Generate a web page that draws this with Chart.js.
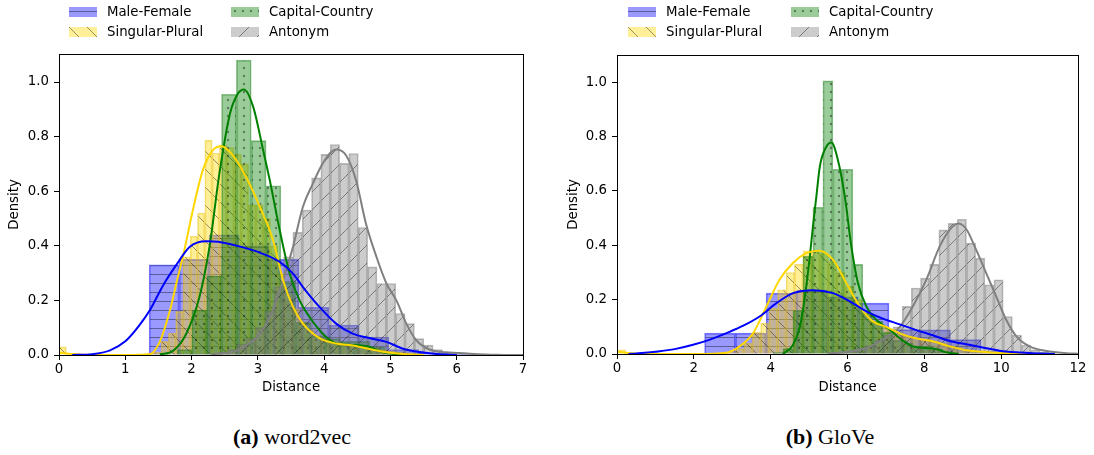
<!DOCTYPE html>
<html>
<head>
<meta charset="utf-8">
<script src="https://cdn.jsdelivr.net/npm/chart.js@4.4.0/dist/chart.umd.min.js"></script>
<style>
  body { margin: 0; background: #fff; }
  #page { position: relative; width: 1094px; height: 455px; overflow: hidden; font-family: "DejaVu Sans", sans-serif; }
  canvas.plot { position: absolute; top: 0; }
  .leg { position: absolute; display: flex; align-items: center; font-size: 13.3px; line-height: 16px; color: #000; white-space: nowrap; }
  .leg canvas { margin-right: 10px; }
  .cap { position: absolute; width: 300px; text-align: center; font-family: "Liberation Serif", serif; font-size: 22px; line-height: 24px; color: #000; }
</style>
</head>
<body>
<div id="page">
  <canvas id="w2v" class="plot" width="547" height="400" style="left:0px"></canvas>
  <canvas id="glove" class="plot" width="547" height="400" style="left:547px"></canvas>
  <div class="cap" style="left:142px;top:425px"><b>(a)</b> word2vec</div>
  <div class="cap" style="left:680px;top:425px"><b>(b)</b> GloVe</div>
</div>
<script>
// series names / styles
const seriesNames = ["Male-Female", "Singular-Plural", "Capital-Country", "Antonym"];
const fillColors = ["rgba(0, 0, 255, 0.4)", "rgba(255, 215, 0, 0.4)", "rgba(0, 128, 0, 0.4)", "rgba(128, 128, 128, 0.4)"];
const edgeColors = ["rgba(0, 0, 255, 0.5)", "rgba(230, 190, 0, 0.5)", "rgba(0, 110, 0, 0.45)", "rgba(100, 100, 100, 0.45)"];
const lineColors = ["#0000ff", "#ffd700", "#008000", "#808080"];
const hatches = ["-", "\\", ".", "/"];
const HATCH_COLOR = "rgba(0, 0, 0, 0.4)";

// ---- word2vec (a) ----
const w2vXTicks = [0, 1, 2, 3, 4, 5, 6, 7];
const w2vYTicks = [0, 0.2, 0.4, 0.6, 0.8, 1.0];

// histograms: first bin edge, bin width, bar heights
const w2vMaleStart = 1.36, w2vMaleWidth = 0.452;
const w2vMaleHeights = [0.33, 0.35, 0.44, 0.4, 0.35, 0.175, 0.11, 0.066, 0.02, 0.008, 0.003];
const w2vPluralStart = 0, w2vPluralWidth = 0.11;
const w2vPluralHeights = [0.03, 0, 0, 0, 0, 0, 0, 0, 0, 0, 0, 0, 0.005, 0.01, 0.05, 0.08, 0.16, 0.36, 0.435, 0.52,
  0.787, 0.74, 0.77, 0.76, 0.735, 0.7, 0.55, 0.55, 0.5, 0.4, 0.3, 0.22, 0.17, 0.12, 0.09, 0.07, 0.06, 0.05, 0.045, 0.04,
  0.04, 0.035, 0.03, 0.025, 0.02, 0.015, 0.01, 0.008, 0.005, 0.003];
const w2vCapitalStart = 1.78, w2vCapitalWidth = 0.224;
const w2vCapitalHeights = [0.02, 0.165, 0.29, 0.955, 1.08, 0.785, 0.62, 0.27, 0.12, 0.07, 0.06, 0.05, 0.05, 0.03, 0.01];
const w2vAntonymStart = 2.4, w2vAntonymWidth = 0.141;
const w2vAntonymHeights = [0.01, 0.02, 0.04, 0.06, 0.1, 0.16, 0.25, 0.36, 0.449, 0.531, 0.649, 0.735, 0.771, 0.702,
  0.738, 0.467, 0.323, 0.262, 0.262, 0.152, 0.115, 0.06, 0.036, 0.02, 0.01, 0.01, 0.005, 0.003];

// density curves
const w2vMaleKdeX = [0.2, 0.5, 0.77, 1.0, 1.2, 1.37, 1.57, 1.77, 1.97, 2.22, 2.4, 2.72, 3.03, 3.33, 3.53, 3.68, 3.93, 4.18, 4.43, 4.68, 4.94, 5.19, 5.44, 5.69, 6.0];
const w2vMaleKdeY = [0, 0.003, 0.017, 0.05, 0.105, 0.164, 0.255, 0.33, 0.396, 0.417, 0.415, 0.398, 0.375, 0.341, 0.298, 0.249, 0.176, 0.115, 0.078, 0.062, 0.048, 0.023, 0.011, 0.004, 0];
const w2vPluralKdeX = [0, 0.15, 0.4, 1.0, 1.37, 1.52, 1.67, 1.77, 1.88, 2.02, 2.17, 2.32, 2.45, 2.62, 2.82, 3.03, 3.23, 3.38, 3.53, 3.68, 3.93, 4.18, 4.43, 4.68, 4.94, 5.19, 5.5];
const w2vPluralKdeY = [0.008, 0.005, 0.001, 0, 0.003, 0.048, 0.16, 0.262, 0.372, 0.531, 0.677, 0.75, 0.765, 0.732, 0.653, 0.543, 0.42, 0.274, 0.176, 0.115, 0.062, 0.042, 0.035, 0.022, 0.01, 0.004, 0];
const w2vCapitalKdeX = [1.52, 1.72, 1.92, 2.12, 2.27, 2.42, 2.58, 2.7, 2.79, 2.93, 3.08, 3.18, 3.33, 3.48, 3.63, 3.78, 3.98, 4.18, 4.43, 4.68, 4.88, 5.09, 5.3];
const w2vCapitalKdeY = [0.002, 0.015, 0.078, 0.213, 0.396, 0.665, 0.885, 0.958, 0.973, 0.909, 0.75, 0.64, 0.457, 0.298, 0.2, 0.139, 0.078, 0.042, 0.037, 0.03, 0.011, 0.003, 0];
const w2vAntonymKdeX = [2.3, 2.72, 3.03, 3.2, 3.38, 3.53, 3.68, 3.83, 3.98, 4.18, 4.33, 4.48, 4.63, 4.79, 4.94, 5.09, 5.24, 5.39, 5.59, 5.84, 6.2, 6.6, 7.0];
const w2vAntonymKdeY = [0.002, 0.02, 0.078, 0.15, 0.274, 0.396, 0.543, 0.628, 0.702, 0.753, 0.732, 0.641, 0.482, 0.359, 0.262, 0.2, 0.115, 0.054, 0.02, 0.01, 0.005, 0.001, 0];

// ---- GloVe (b) ----
const gloveXTicks = [0, 2, 4, 6, 8, 10, 12];
const gloveYTicks = [0, 0.2, 0.4, 0.6, 0.8, 1.0];

const gloveMaleStart = 2.28, gloveMaleWidth = 0.8;
const gloveMaleHeights = [0.077, 0.077, 0.224, 0.235, 0.21, 0.187, 0.09, 0.089, 0.053, 0.01];
const glovePluralStart = 0, glovePluralWidth = 0.22;
const glovePluralHeights = [0.015, 0, 0, 0, 0, 0, 0, 0, 0, 0, 0, 0, 0, 0.005, 0.02, 0.04, 0.08, 0.114, 0.17, 0.236,
  0.3, 0.33, 0.38, 0.38, 0.37, 0.34, 0.3, 0.25, 0.2, 0.15, 0.12, 0.1, 0.09, 0.075, 0.065, 0.058, 0.05, 0.045, 0.04, 0.03,
  0.025, 0.015, 0.012, 0.008, 0.006, 0.004, 0.003, 0.002, 0.002, 0.001];
const gloveCapitalStart = 4.06, gloveCapitalWidth = 0.26;
const gloveCapitalHeights = [0.005, 0.02, 0.16, 0.36, 0.54, 1.005, 0.68, 0.68, 0.33, 0.15, 0.12, 0.08, 0.05, 0.04, 0.03, 0.03, 0.02, 0.01];
const gloveAntonymStart = 5.75, gloveAntonymWidth = 0.239;
const gloveAntonymHeights = [0.005, 0.01, 0.02, 0.03, 0.05, 0.07, 0.1, 0.175, 0.243, 0.279, 0.33, 0.457, 0.481, 0.496,
  0.408, 0.353, 0.255, 0.273, 0.138, 0.07, 0.033, 0.015, 0.008];

const gloveMaleKdeX = [0.3, 0.5, 1.11, 1.5, 1.98, 2.4, 2.85, 3.3, 3.71, 4.15, 4.58, 5.1, 5.62, 6.06, 6.49, 6.92, 7.36, 7.79, 8.22, 8.66, 9.09, 9.52, 9.96, 10.4, 10.82, 11.4];
const gloveMaleKdeY = [0, 0.002, 0.01, 0.018, 0.034, 0.052, 0.077, 0.105, 0.138, 0.187, 0.224, 0.235, 0.224, 0.194, 0.157, 0.13, 0.109, 0.088, 0.069, 0.048, 0.036, 0.024, 0.012, 0.006, 0.003, 0];
const glovePluralKdeX = [0, 0.3, 0.6, 2.0, 2.85, 3.19, 3.54, 3.89, 4.23, 4.58, 4.93, 5.25, 5.62, 5.97, 6.32, 6.66, 7.01, 7.36, 7.79, 8.22, 8.66, 9.09, 9.52, 9.96, 10.5, 11.0];
const glovePluralKdeY = [0.008, 0.004, 0, 0, 0.005, 0.028, 0.076, 0.175, 0.273, 0.335, 0.371, 0.38, 0.347, 0.261, 0.175, 0.12, 0.1, 0.076, 0.058, 0.047, 0.028, 0.014, 0.008, 0.004, 0.002, 0];
const gloveCapitalKdeX = [4.32, 4.58, 4.76, 4.88, 5.02, 5.1, 5.19, 5.28, 5.45, 5.58, 5.75, 5.93, 6.1, 6.27, 6.49, 6.75, 7.1, 7.36, 7.7, 8.05, 8.31, 8.57, 8.9];
const gloveCapitalKdeY = [0, 0.033, 0.1, 0.2, 0.359, 0.47, 0.58, 0.69, 0.763, 0.778, 0.714, 0.58, 0.396, 0.262, 0.175, 0.126, 0.089, 0.058, 0.028, 0.022, 0.018, 0.006, 0];
const gloveAntonymKdeX = [5.5, 6.0, 6.49, 6.92, 7.36, 7.7, 8.05, 8.4, 8.66, 8.88, 9.09, 9.35, 9.61, 9.87, 10.13, 10.4, 10.74, 11.18, 11.7, 12.0];
const gloveAntonymKdeY = [0.002, 0.008, 0.022, 0.054, 0.1, 0.175, 0.273, 0.396, 0.457, 0.48, 0.46, 0.383, 0.298, 0.212, 0.126, 0.064, 0.028, 0.011, 0.003, 0.001];

// hatch pattern: translucent fill plus dark hatch marks
function makePattern(ctx, fill, hatch) {
  const size = hatch === "-" ? 9 : hatch === "." ? 8 : 18;
  const c = document.createElement("canvas");
  c.width = size;
  c.height = size;
  const g = c.getContext("2d");
  g.fillStyle = fill;
  g.fillRect(0, 0, size, size);
  g.strokeStyle = HATCH_COLOR;
  g.fillStyle = HATCH_COLOR;
  g.lineWidth = 1;
  g.beginPath();
  if (hatch === "-") {
    g.moveTo(0, 4.5);
    g.lineTo(size, 4.5);
    g.stroke();
  } else if (hatch === "/") {
    [-size, 0, size].forEach((k) => {
      g.moveTo(k, size);
      g.lineTo(k + size, 0);
    });
    g.stroke();
  } else if (hatch === "\\") {
    [-size, 0, size].forEach((k) => {
      g.moveTo(k, 0);
      g.lineTo(k + size, size);
    });
    g.stroke();
  } else if (hatch === ".") {
    g.arc(4, 4, 1.2, 0, Math.PI * 2);
    g.fill();
  }
  return ctx.createPattern(c, "repeat");
}

// black box around the plot area (matplotlib spines)
const framePlugin = {
  id: "frame",
  afterDatasetsDraw(chart) {
    const a = chart.chartArea;
    const c = chart.ctx;
    c.save();
    c.strokeStyle = "#000";
    c.lineWidth = 1;
    c.strokeRect(Math.floor(a.left) + 0.5, Math.floor(a.top) + 0.5, Math.round(a.right - a.left), Math.round(a.bottom - a.top));
    c.restore();
  },
};

function histData(start, width, heights) {
  return heights.map((h, i) => ({ x: start + width * (i + 0.5), y: h }));
}

function kdeData(xs, ys) {
  return xs.map((x, i) => ({ x: x, y: ys[i] }));
}

const tickFont = { family: "DejaVu Sans", size: 13.3 };

function drawPanel(canvasId, p) {
  const ctx = document.getElementById(canvasId).getContext("2d");
  const datasets = [];
  const scales = {};

  p.hists.forEach((h, k) => {
    datasets.push({
      type: "bar",
      label: seriesNames[k],
      xAxisID: "h" + k,
      data: histData(h[0], h[1], h[2]),
      backgroundColor: makePattern(ctx, fillColors[k], hatches[k]),
      borderColor: edgeColors[k],
      borderWidth: (c) => (c.raw && c.raw.y > 0 ? 1 : 0),
      borderSkipped: "start",
      barPercentage: 1,
      categoryPercentage: 1,
      grouped: false,
      order: 4 - k,
    });
    // one hidden x axis per histogram so each keeps its own bin width
    scales["h" + k] = {
      type: "linear",
      display: false,
      min: p.xMin,
      max: p.xMax,
      offset: false,
      grid: { offset: false },
      afterBuildTicks: (s) => {
        s.ticks = [{ value: s.min }, { value: s.max }];
      },
    };
  });

  p.kdes.forEach((d, k) => {
    datasets.push({
      type: "line",
      label: seriesNames[k] + " kde",
      xAxisID: "x",
      data: kdeData(d[0], d[1]),
      borderColor: lineColors[k],
      borderWidth: 2,
      pointRadius: 0,
      fill: false,
      cubicInterpolationMode: "monotone",
      order: 0,
    });
  });

  scales.x = {
    type: "linear",
    position: "bottom",
    min: p.xMin,
    max: p.xMax,
    offset: false,
    afterBuildTicks: (s) => {
      s.ticks = p.xTicks.map((v) => ({ value: v }));
    },
    afterFit: (s) => {
      s.height = p.xAxisHeight;
    },
    border: { display: false },
    grid: { display: true, offset: false, drawOnChartArea: false, drawTicks: true, tickLength: 5, color: "#000" },
    ticks: { color: "#000", padding: 2, maxRotation: 0, font: tickFont },
    title: { display: true, text: "Distance", color: "#000", font: tickFont, padding: { top: 0, bottom: 4 } },
  };
  scales.y = {
    type: "linear",
    position: "left",
    min: 0,
    max: p.yMax,
    afterBuildTicks: (s) => {
      s.ticks = p.yTicks.map((v) => ({ value: v }));
    },
    afterFit: (s) => {
      s.width = p.yAxisWidth;
    },
    border: { display: false },
    grid: { display: true, offset: false, drawOnChartArea: false, drawTicks: true, tickLength: 5, color: "#000" },
    ticks: { color: "#000", padding: 5, font: tickFont, callback: (v) => Number(v).toFixed(1) },
    title: { display: true, text: "Density", color: "#000", font: tickFont, padding: { top: 7, bottom: 0 } },
  };

  new Chart(ctx, {
    type: "bar",
    data: { datasets: datasets },
    options: {
      responsive: false,
      animation: false,
      layout: { padding: p.padding },
      plugins: {
        legend: { display: false },
        tooltip: { enabled: false },
      },
      scales: scales,
    },
    plugins: [framePlugin],
  });
}

// legend in two columns, filled column by column like matplotlib ncol=2
function drawLegend(colLefts, rowTops) {
  const page = document.getElementById("page");
  seriesNames.forEach((name, k) => {
    const item = document.createElement("div");
    item.className = "leg";
    item.style.left = colLefts[Math.floor(k / 2)] + "px";
    item.style.top = rowTops[k % 2] + "px";
    const sw = document.createElement("canvas");
    sw.width = 28;
    sw.height = 10;
    const g = sw.getContext("2d");
    g.fillStyle = makePattern(g, fillColors[k], hatches[k]);
    g.fillRect(0, 0, 28, 10);
    const label = document.createElement("span");
    label.textContent = name;
    item.appendChild(sw);
    item.appendChild(label);
    page.appendChild(item);
  });
}

drawPanel("w2v", {
  xMin: 0,
  xMax: 7,
  yMax: 1.1026,
  xTicks: w2vXTicks,
  yTicks: w2vYTicks,
  yAxisWidth: 59,
  xAxisHeight: 45,
  padding: { top: 54, right: 24, bottom: 0, left: 0 },
  hists: [
    [w2vMaleStart, w2vMaleWidth, w2vMaleHeights],
    [w2vPluralStart, w2vPluralWidth, w2vPluralHeights],
    [w2vCapitalStart, w2vCapitalWidth, w2vCapitalHeights],
    [w2vAntonymStart, w2vAntonymWidth, w2vAntonymHeights],
  ],
  kdes: [
    [w2vMaleKdeX, w2vMaleKdeY],
    [w2vPluralKdeX, w2vPluralKdeY],
    [w2vCapitalKdeX, w2vCapitalKdeY],
    [w2vAntonymKdeX, w2vAntonymKdeY],
  ],
});

drawPanel("glove", {
  xMin: 0,
  xMax: 12,
  yMax: 1.1004,
  xTicks: gloveXTicks,
  yTicks: gloveYTicks,
  yAxisWidth: 58,
  xAxisHeight: 46,
  padding: { top: 55, right: 16, bottom: 0, left: 12 },
  hists: [
    [gloveMaleStart, gloveMaleWidth, gloveMaleHeights],
    [glovePluralStart, glovePluralWidth, glovePluralHeights],
    [gloveCapitalStart, gloveCapitalWidth, gloveCapitalHeights],
    [gloveAntonymStart, gloveAntonymWidth, gloveAntonymHeights],
  ],
  kdes: [
    [gloveMaleKdeX, gloveMaleKdeY],
    [glovePluralKdeX, glovePluralKdeY],
    [gloveCapitalKdeX, gloveCapitalKdeY],
    [gloveAntonymKdeX, gloveAntonymKdeY],
  ],
});

drawLegend([69, 231], [4, 24]);
drawLegend([628, 791], [4, 24]);
</script>
</body>
</html>
